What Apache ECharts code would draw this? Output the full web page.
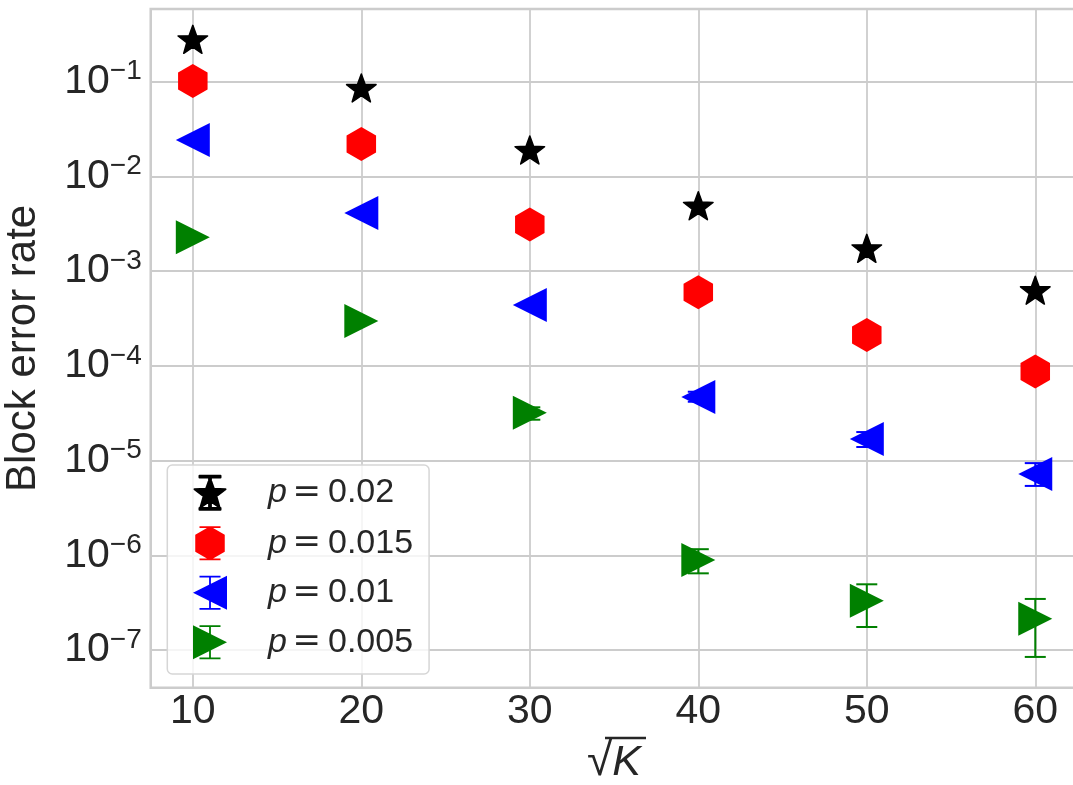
<!DOCTYPE html>
<html><head><meta charset="utf-8">
<script src="https://cdn.jsdelivr.net/npm/echarts@6/dist/echarts.min.js"></script>
<style>html,body{margin:0;padding:0;background:#fff}#c{width:1073px;height:785px}</style>
</head><body><div id="c"></div>
<script>
// ---------------- data ----------------
const sqrtK = [10, 20, 30, 40, 50, 60];
const xTickLabels = [10, 20, 30, 40, 50, 60];
const yTickExponents = [-7, -6, -5, -4, -3, -2, -1];
const seriesNames = ['p = 0.02', 'p = 0.015', 'p = 0.01', 'p = 0.005'];
const bler_p020 = [0.28, 0.086, 0.019, 0.0049, 0.00174, 0.00063];
const bler_p015 = [0.102, 0.022, 0.0031, 0.0006, 0.000212, 0.000087];
const bler_p010 = [0.0243, 0.0041, 0.00044, 0.000047, 0.0000169, 0.0000072];
const bler_p005 = [0.00228, 0.000298, 0.000032, 8.9e-7, 3.32e-7, 2.14e-7];
// error bars [low, high]; null where the bar is hidden by the marker
const err_p020 = [null, null, null, null, null, null];
const err_p015 = [null, null, null, null, null, null];
const err_p010 = [null, null, null, [4.18e-5, 5.33e-5], [1.39e-5, 2.0e-5], [5.4e-6, 9.4e-6]];
const err_p005 = [null, null, [2.7e-5, 3.65e-5], [6.45e-7, 1.16e-6], [1.75e-7, 4.94e-7], [8.45e-8, 3.46e-7]];

// ---------------- styling ----------------
const TXT = '#262626';
const FONT = 'Liberation Sans';
const colors = ['#000000', '#ff0000', '#0000ff', '#008000'];

function poly(pts) {
  return pts.map((p, i) => (i ? 'L' : 'M') + p[0].toFixed(2) + ',' + p[1].toFixed(2)).join(' ') + ' Z';
}
function starPts(cx, cy, R, r) {
  const pts = [];
  for (let i = 0; i < 10; i++) {
    const rad = (i % 2) ? r : R;
    const a = (90 - 36 * i) * Math.PI / 180;
    pts.push([cx + rad * Math.cos(a), cy - rad * Math.sin(a)]);
  }
  return pts;
}
function rect(x0, y0, x1, y1) { return poly([[x0, y0], [x1, y0], [x1, y1], [x0, y1]]); }
const ibeam = rect(6.5, 0, 27.5, 1.8) + ' ' + rect(6.5, 32.2, 27.5, 34) + ' ' + rect(16.1, 0, 17.9, 34);

const markerPaths = [
  'path://' + poly(starPts(0, 0, 10, 4.1)),
  'path://' + poly([[0, -1], [0.866, -0.5], [0.866, 0.5], [0, 1], [-0.866, 0.5], [-0.866, -0.5]]),
  'path://' + poly([[0, 17], [34, 0], [34, 34]]),
  'path://' + poly([[34, 17], [0, 34], [0, 0]])
];
const markerSizes = [[29.5, 28], [29.5, 34], [34, 34], [34, 34]];
const markerBorder = [1.5, 0, 0, 0];
const legendIcons = [
  'path://' + poly(starPts(17, 18.55, 16.3, 6.7)) + ' ' + ibeam,
  'path://' + poly([[17, 0], [31.75, 8.5], [31.75, 25.5], [17, 34], [2.25, 25.5], [2.25, 8.5]]) + ' ' + ibeam,
  'path://' + poly([[0, 17], [34, 0], [34, 34]]) + ' ' + ibeam,
  'path://' + poly([[34, 17], [0, 34], [0, 0]]) + ' ' + ibeam
];

const allVals = [bler_p020, bler_p015, bler_p010, bler_p005];
const allErrs = [err_p020, err_p015, err_p010, err_p005];

function errRender(color) {
  return function (params, api) {
    const x = api.value(0), lo = api.value(1), hi = api.value(2);
    const a = api.coord([x, lo]), b = api.coord([x, hi]);
    const hw = 10.5;
    const st = { stroke: color, lineWidth: 2, fill: null };
    return {
      type: 'group', children: [
        { type: 'line', shape: { x1: a[0], y1: a[1], x2: b[0], y2: b[1] }, style: st },
        { type: 'line', shape: { x1: a[0] - hw, y1: a[1], x2: a[0] + hw, y2: a[1] }, style: st },
        { type: 'line', shape: { x1: b[0] - hw, y1: b[1], x2: b[0] + hw, y2: b[1] }, style: st }
      ]
    };
  };
}

const series = [];
seriesNames.forEach((name, k) => {
  const errData = [];
  allErrs[k].forEach((e, i) => { if (e) errData.push([sqrtK[i], e[0], e[1]]); });
  if (errData.length) {
    series.push({
      type: 'custom', name: 'err ' + name, data: errData, renderItem: errRender(colors[k]),
      encode: { x: 0, y: [1, 2] }, z: 2, silent: true
    });
  }
  series.push({
    type: 'scatter', name: name,
    data: sqrtK.map((x, i) => [x, allVals[k][i]]),
    symbol: markerPaths[k], symbolSize: markerSizes[k],
    itemStyle: { color: colors[k], opacity: 1, borderColor: colors[k], borderWidth: markerBorder[k], borderJoin: 'round' },
    z: 3, emphasis: { disabled: true }
  });
});

const chart = echarts.init(document.getElementById('c'), null, { renderer: 'canvas' });
chart.setOption({
  animation: false,
  backgroundColor: '#ffffff',
  textStyle: { fontFamily: FONT, color: TXT },
  grid: {
    left: 150.7, top: 9, right: -4.4, bottom: 97.3,
    show: true, borderColor: '#cccccc', borderWidth: 2.5, backgroundColor: 'transparent',
    containLabel: false, outerBoundsMode: 'none'
  },
  xAxis: {
    type: 'value', min: 7.5, max: 62.5,
    axisLine: { show: false }, axisTick: { show: false },
    splitLine: { show: true, lineStyle: { color: '#cccccc', width: 1.8 } },
    axisLabel: {
      fontSize: 41, color: TXT, fontFamily: FONT, margin: 3, lineHeight: 41,
      formatter: v => xTickLabels.includes(Math.round(v)) && Math.abs(v - Math.round(v)) < 1e-6 ? String(Math.round(v)) : ''
    },
    name: '{r|√}{k|K}', nameLocation: 'middle', nameGap: 50,
    nameTextStyle: {
      rich: {
        r: { fontSize: 46, color: TXT, fontFamily: FONT, lineHeight: 50 },
        k: { fontSize: 43, color: TXT, fontFamily: FONT, fontStyle: 'italic', lineHeight: 50 }
      }
    }
  },
  yAxis: {
    type: 'log', logBase: 10, min: 4.0e-8, max: 0.5855,
    axisLine: { show: false }, axisTick: { show: false },
    splitLine: { show: true, lineStyle: { color: '#cccccc', width: 1.8 } },
    axisLabel: {
      margin: 9,
      formatter: v => {
        const l = Math.log10(v), e = Math.round(l);
        if (Math.abs(l - e) > 1e-6 || !yTickExponents.includes(e)) return '';
        return '{b|10}{s|−' + (-e) + '}';
      },
      rich: {
        b: { fontSize: 41, color: TXT, fontFamily: FONT, lineHeight: 48 },
        s: { fontSize: 28, color: TXT, fontFamily: FONT, lineHeight: 28, verticalAlign: 'top' }
      }
    },
    name: 'Block error rate', nameLocation: 'middle', nameGap: 106,
    nameTextStyle: { fontSize: 42, color: TXT, fontFamily: FONT }
  },
  legend: {
    data: seriesNames.map((n, k) => ({ name: n, icon: legendIcons[k] })),
    orient: 'vertical', left: 167.3, top: 465,
    padding: [9.7, 16, 14.7, 25.7], itemGap: 15.5, itemWidth: 34, itemHeight: 34,
    backgroundColor: 'rgba(255,255,255,0.8)', borderColor: '#d6d6d6', borderWidth: 1.5, borderRadius: 5,
    selectedMode: false,
    formatter: n => '{i|p}{e|=}{n|' + n.split('=')[1].trim() + '}',
    textStyle: {
      padding: [0, 0, 0, 36],
      rich: {
        i: { fontSize: 34, color: TXT, fontFamily: FONT, fontStyle: 'italic', lineHeight: 34 },
        e: { fontSize: 34, color: TXT, fontFamily: 'DejaVu Sans', lineHeight: 34, padding: [0, 7, 0, 5.6] },
        n: { fontSize: 34, color: TXT, fontFamily: FONT, lineHeight: 34 }
      }
    }
  },
  graphic: [{
    type: 'line', shape: { x1: 605, y1: 738, x2: 646, y2: 738 },
    style: { stroke: TXT, lineWidth: 2.5 }, silent: true
  }],
  series: series
});
</script>
</body></html>
